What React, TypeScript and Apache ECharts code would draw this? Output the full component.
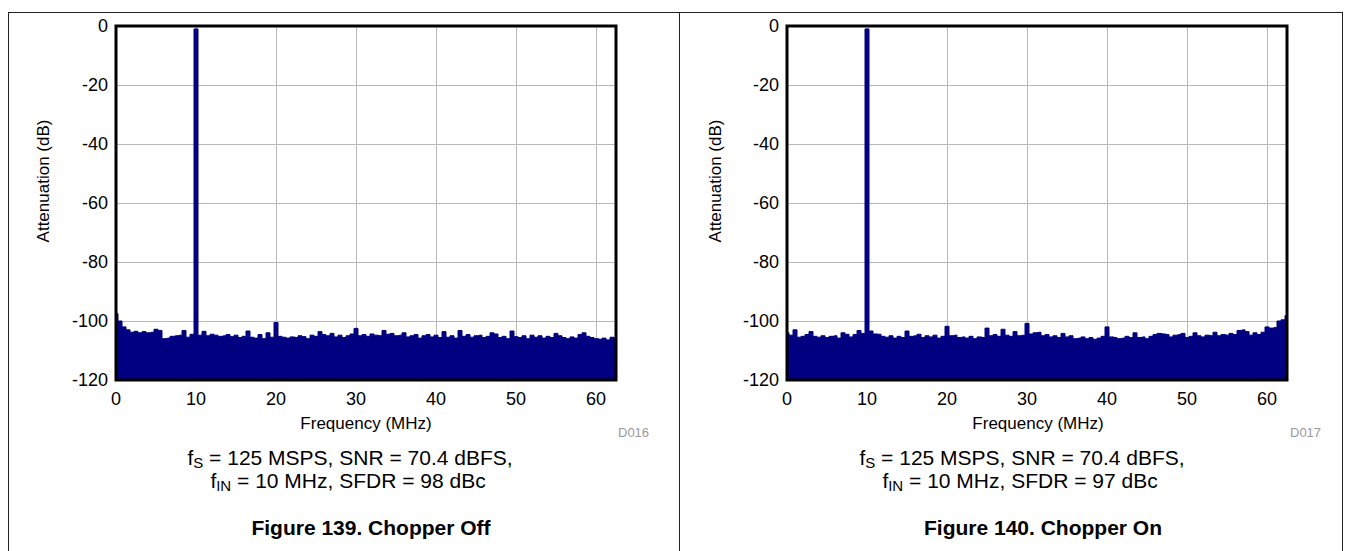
import React, { useEffect, useRef } from "react";
import * as echarts from "echarts";

// FFT bin spacing used for the traces (MHz)
const FREQ_STEP_MHZ = 0.5;

// Figure 139 – Chopper Off (dB, 0 … 62.5 MHz)
const CHOPPER_OFF_DB = [
  -97.5, -100, -102, -103, -103.8, -103.5, -104, -103.6, -104, -103.8,
  -102.8, -103.2, -106, -105.8, -105.2, -105, -104.8, -103.2, -105.5, -104.5,
  -1, -104.8, -103.5, -105, -104.5, -104.8, -105.2, -105, -104.6, -105.3,
  -104.8, -105.6, -105.2, -103.4, -105.5, -105.8, -104.6, -106, -104, -105.5,
  -100.5, -105.2, -105.5, -105.8, -105.4, -105.6, -105, -105.3, -106, -104.8,
  -105.2, -103.6, -104.6, -105, -104.2, -105.4, -104.8, -105.6, -105, -104.4,
  -102.5, -105, -104.6, -105.2, -104.4, -104.8, -105, -103.2, -104.5, -104.2,
  -105, -104.8, -104, -105.4, -105, -104.6, -105.8, -105, -104.6, -105.4,
  -104.8, -105.6, -103.6, -105.5, -105, -105.8, -103.2, -105.2, -104.6, -105.5,
  -105, -104.8, -105.6, -105.2, -104, -104.4, -105.6, -105.2, -106, -103.4,
  -105.3, -105.6, -105, -106, -104.8, -105.5, -105, -105.8, -105.2, -105.6,
  -104.2, -105, -105.6, -106, -105.4, -105.8, -104.6, -104, -105.2, -105.6,
  -106, -106.2, -105.8, -106.4, -105.5, -105.8,
];

// Figure 140 – Chopper On (dB, 0 … 62.5 MHz)
const CHOPPER_ON_DB = [
  -104, -104.8, -103, -105.5, -105.2, -104.6, -103.6, -105.2, -105.5, -105,
  -105.6, -105.2, -105, -105.8, -104, -104.5, -105.4, -104.6, -103.2, -104.2,
  -1, -103.4, -104.4, -104.5, -105.2, -105.5, -105, -105.8, -105.2, -105.6,
  -103.4, -105.2, -105, -104.5, -105.6, -105, -105.4, -104.8, -105.8, -105.2,
  -101.8, -105, -104.8, -105.6, -105.4, -105.8, -105.2, -106, -105.4, -105.6,
  -102.4, -105, -104.6, -105.2, -102.8, -104.8, -105.2, -103.6, -105, -104.8,
  -100.8, -104.4, -104, -103.8, -105, -104.6, -105.4, -105, -105.6, -104.2,
  -105.4, -105, -106, -105.8, -105.4, -106, -105.6, -106.2, -105.8, -105.2,
  -102, -105.4, -105.6, -106, -105.8, -105.2, -105.6, -104, -105.6, -105.4,
  -106, -105.2, -104.6, -104.2, -104.4, -104.6, -105.4, -104.8, -104.6, -104.2,
  -105.6, -105.2, -104, -105, -105.4, -104.8, -105, -103.8, -105, -104.6,
  -104.8, -104.2, -104.6, -103.2, -103, -103.6, -104.8, -104, -104.6, -103.8,
  -102, -102.4, -102.2, -100, -99.6, -98.2,
];

const X_MIN = 0;
const X_MAX = 62.5;
const X_INTERVAL = 10;
const Y_MIN = -120;
const Y_MAX = 0;
const Y_INTERVAL = 20;

const X_NAME = "Frequency (MHz)";
const Y_NAME = "Attenuation (dB)";
const PANELS = [
  { code: "D016", sfdr: "98", figure: "Figure 139. Chopper Off", data: CHOPPER_OFF_DB },
  { code: "D017", sfdr: "97", figure: "Figure 140. Chopper On", data: CHOPPER_ON_DB },
];

const FONT = "'Liberation Sans', Arial, Helvetica, sans-serif";
const NAVY = "#000080";

const toPairs = (vals: number[]) => vals.map((v, i) => [i * FREQ_STEP_MHZ, v]);

export default function App() {
  const ref = useRef<HTMLDivElement>(null);

  useEffect(() => {
    if (!ref.current) return;
    const chart = echarts.init(ref.current, undefined, { renderer: "svg" });

    const gridLefts = [116, 787];
    const offsets = [0, 672];

    const grids = gridLefts.map((left) => ({
      left,
      top: 26,
      width: 500,
      height: 354,
      show: true,
      borderColor: "#000",
      borderWidth: 3,
      backgroundColor: "transparent",
      z: 10,
    }));

    const xAxes = gridLefts.map((_, i) => ({
      type: "value",
      gridIndex: i,
      min: X_MIN,
      max: X_MAX,
      interval: X_INTERVAL,
      axisLine: { show: false },
      axisTick: { show: false },
      axisLabel: {
        fontSize: 18,
        color: "#000",
        fontFamily: FONT,
        margin: 10,
        formatter: (v: number) => (v % X_INTERVAL === 0 ? String(v) : ""),
      },
      splitLine: { show: true, lineStyle: { color: "#b8b8b8", width: 1 } },
    }));

    const yAxes = gridLefts.map((_, i) => ({
      type: "value",
      gridIndex: i,
      min: Y_MIN,
      max: Y_MAX,
      interval: Y_INTERVAL,
      axisLine: { show: false },
      axisTick: { show: false },
      axisLabel: { fontSize: 18, color: "#000", fontFamily: FONT, margin: 8 },
      splitLine: { show: true, lineStyle: { color: "#b8b8b8", width: 1 } },
    }));

    const series = PANELS.map((p, i) => ({
      type: "line",
      xAxisIndex: i,
      yAxisIndex: i,
      step: "middle",
      symbol: "none",
      data: toPairs(p.data),
      lineStyle: { color: NAVY, width: 1 },
      areaStyle: { color: NAVY, opacity: 1, origin: "start" },
      z: 2,
    }));

    const graphic: any[] = [
      { type: "line", shape: { x1: 8, y1: 12.5, x2: 1343, y2: 12.5 }, style: { stroke: "#222", lineWidth: 1 } },
      { type: "line", shape: { x1: 8.5, y1: 12, x2: 8.5, y2: 551 }, style: { stroke: "#222", lineWidth: 1 } },
      { type: "line", shape: { x1: 679.5, y1: 12, x2: 679.5, y2: 551 }, style: { stroke: "#222", lineWidth: 1 } },
      { type: "line", shape: { x1: 1342.5, y1: 12, x2: 1342.5, y2: 551 }, style: { stroke: "#222", lineWidth: 1 } },
    ];

    PANELS.forEach((p, i) => {
      const o = offsets[i];
      graphic.push(
        {
          type: "text",
          x: 43 + o,
          y: 181,
          rotation: Math.PI / 2,
          style: { text: Y_NAME, fontSize: 17, fontFamily: FONT, fill: "#000", textAlign: "center", textVerticalAlign: "middle" },
        },
        {
          type: "text",
          x: 366 + o,
          y: 423,
          style: { text: X_NAME, fontSize: 17, fontFamily: FONT, fill: "#000", textAlign: "center", textVerticalAlign: "middle" },
        },
        {
          type: "text",
          x: 618 + o,
          y: 432,
          style: { text: p.code, fontSize: 13, fontFamily: FONT, fill: "#9a9a9a", textAlign: "left", textVerticalAlign: "middle" },
        },
        {
          type: "text",
          x: 350 + o,
          y: 457,
          style: {
            text: "{m|f}{s|S}{m| = 125 MSPS, SNR = 70.4 dBFS,}",
            textAlign: "center",
            textVerticalAlign: "middle",
            rich: {
              m: { fontSize: 21, fontFamily: FONT, fill: "#000", color: "#000" },
              s: { fontSize: 15, fontFamily: FONT, fill: "#000", color: "#000", padding: [10, 0, 0, 0] },
            },
          },
        },
        {
          type: "text",
          x: 348 + o,
          y: 480,
          style: {
            text: `{m|f}{s|IN}{m| = 10 MHz, SFDR = ${p.sfdr} dBc}`,
            textAlign: "center",
            textVerticalAlign: "middle",
            rich: {
              m: { fontSize: 21, fontFamily: FONT, fill: "#000", color: "#000" },
              s: { fontSize: 15, fontFamily: FONT, fill: "#000", color: "#000", padding: [10, 0, 0, 0] },
            },
          },
        },
        {
          type: "text",
          x: 371 + o,
          y: 527,
          style: { text: p.figure, fontSize: 21, fontWeight: "bold", fontFamily: FONT, fill: "#000", textAlign: "center", textVerticalAlign: "middle" },
        }
      );
    });

    chart.setOption({
      animation: false,
      backgroundColor: "#fff",
      grid: grids,
      xAxis: xAxes,
      yAxis: yAxes,
      series,
      graphic,
    } as any);

    return () => chart.dispose();
  }, []);

  return (
    <div
      ref={ref}
      style={{ position: "fixed", left: 0, top: 0, width: 1351, height: 551, background: "#fff" }}
    />
  );
}
